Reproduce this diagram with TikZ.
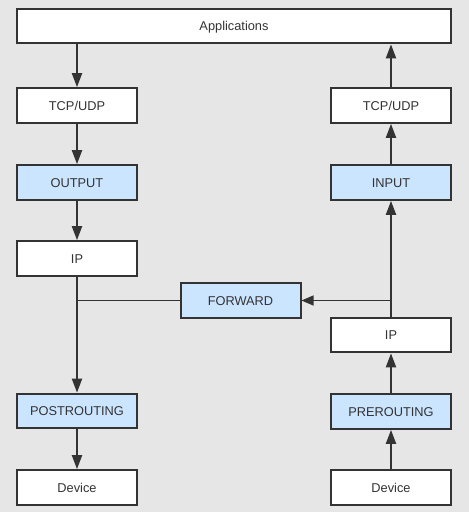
\documentclass[tikz,border=0pt]{standalone}
\usepackage{fontspec}
\setmainfont{Liberation Sans}
\usetikzlibrary{arrows.meta}
\definecolor{bg}{HTML}{E6E6E6}
\definecolor{chain}{HTML}{CCE5FF}
\definecolor{ink}{HTML}{333333}
\begin{document}
\begin{tikzpicture}[x=0.75pt,y=-0.75pt,
  box/.style={draw=ink,line width=1.5pt,fill=white,minimum width=90pt,minimum height=26pt,inner sep=0pt,text height=6.9pt,text depth=-0.4pt,text=ink,font=\fontsize{9.6pt}{11pt}\selectfont},
  hook/.style={box,fill=chain},
  flow/.style={draw=ink,line width=1.5pt,-{Triangle[length=10.5pt,width=7.5pt]}},
  thin/.style={draw=ink,line width=1pt}]
\fill[bg] (0,0) rectangle (469,512);
\useasboundingbox (0,0) rectangle (469,512);
\node[box,minimum width=325.5pt] (app) at (234,26) {Applications};
\node[box] (ltcp) at (77,105.5) {TCP/UDP};
\node[hook] (out) at (77,182.5) {OUTPUT};
\node[box] (lip) at (77,258.5) {IP};
\node[hook] (post) at (77,411) {POSTROUTING};
\node[box] (ldev) at (77,487.5) {Device};
\node[box] (rtcp) at (391,105.5) {TCP/UDP};
\node[hook] (in) at (391,182.5) {INPUT};
\node[box] (rip) at (391,335) {IP};
\node[hook] (pre) at (391,411.5) {PREROUTING};
\node[box] (rdev) at (391,487.5) {Device};
\node[hook] (fwd) at (240.5,300.5) {FORWARD};
\coordinate (jl) at (lip |- fwd);
\coordinate (jr) at (rip |- fwd);
\draw[flow] (ltcp |- app.south) -- (ltcp.north);
\draw[flow] (ltcp.south) -- (out.north);
\draw[flow] (out.south) -- (lip.north);
\draw[flow] (lip.south) -- (post.north);
\draw[flow] (post.south) -- (ldev.north);
\draw[thin] (jl) -- (fwd.west);
\draw[flow] (rdev.north) -- (pre.south);
\draw[flow] (pre.north) -- (rip.south);
\draw[flow] (rip.north) -- (in.south);
\draw[flow] (in.north) -- (rtcp.south);
\draw[flow] (rtcp.north) -- (rtcp |- app.south);
\draw[thin,-{Triangle[length=9pt,width=7.5pt]}] (jr) -- (fwd.east);
\end{tikzpicture}
\end{document}
